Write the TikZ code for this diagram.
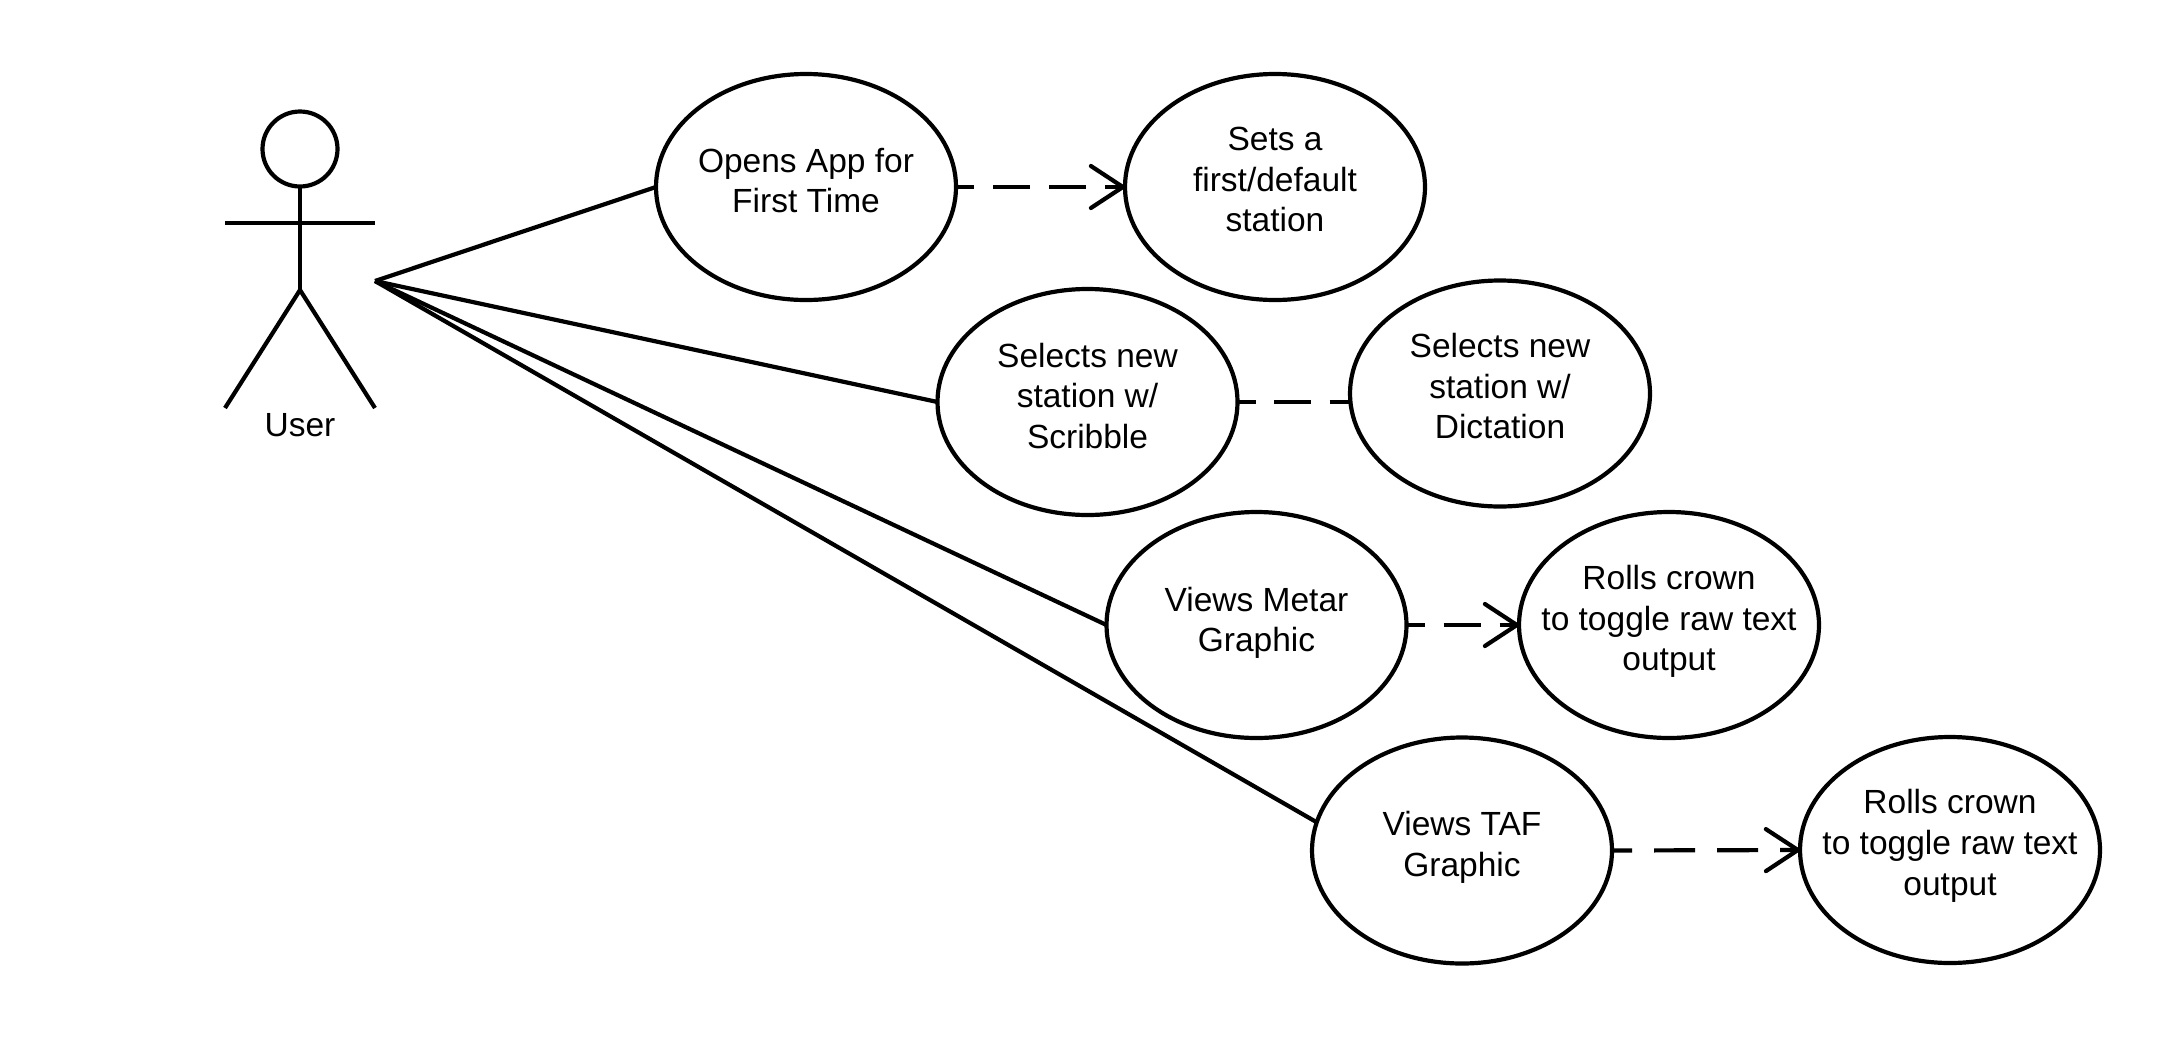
\documentclass[tikz,border=0pt]{standalone}
\usepackage{fontspec}
\setmainfont{Liberation Sans}
\usetikzlibrary{shapes.geometric,arrows.meta}
\tikzset{
  lbl/.style={font=\fontsize{33.5}{40.7}\selectfont, align=center, inner sep=0pt, outer sep=0pt, text=black},
  usecase/.style={ellipse, draw=black, line width=4.2pt, fill=white, inner sep=0pt, outer sep=0pt, minimum width=300pt, minimum height=226pt},
  conn/.style={draw=black, line width=4.2pt},
  dep/.style={conn, dash pattern=on 37pt off 19pt, dash phase=19pt},
  depwide/.style={conn, dash pattern=on 41pt off 22pt, dash phase=21pt},
  plaindep/.style={conn, line width=3.2pt, dash pattern=on 37pt off 18.5pt, dash phase=19pt},
  opentip/.style={-{Straight Barb[length=32pt,width=42pt,line width=4.2pt,round=false]}},
}
% #1 name, #2 x, #3 y, #4 text shift, #5 text
\newcommand{\uc}[5]{\node[usecase,label={[lbl,yshift=#4pt]center:{#5}}] (#1) at (#2,#3) {};}
\begin{document}
\begin{tikzpicture}[x=1pt,y=-1pt]
\useasboundingbox (0,0) rectangle (2175,1039);
% actor
\node[ellipse, draw=black, line width=4.2pt, inner sep=0pt, outer sep=0pt, minimum width=75pt, minimum height=75pt] (head) at (300,149) {};
\coordinate (hip) at (300,290);
\coordinate (armL) at (225,223);
\coordinate (armR) at (375,223);
\coordinate (footL) at (225,408);
\coordinate (footR) at (375,408);
\coordinate (u) at (375,281);
\draw[conn] (head.south) -- (hip);
\draw[conn] (armL) -- (armR);
\draw[conn] (footL) -- (hip) -- (footR);
\node[lbl] (user) at (300,425) {User};
% use cases
\uc{open}{806}{187}{6.4}{Opens App for\\First Time}
\uc{first}{1275}{187}{7.5}{Sets a\\first/default\\station}
\uc{scrib}{1087.5}{402}{6}{Selects new\\station w/\\Scribble}
\uc{dict}{1500}{393.5}{7.3}{Selects new\\station w/\\Dictation}
\uc{metar}{1256.5}{625}{2.2}{Views Metar\\Graphic}
\uc{rollA}{1669}{625}{3.6}{Rolls crown\\to toggle raw text\\output}
\uc{taf}{1462}{850.5}{3.2}{Views TAF\\Graphic}
\uc{rollB}{1950}{850}{4.2}{Rolls crown\\to toggle raw text\\output}
% associations
\draw[conn] (u) -- (open.west);
\draw[conn] (u) -- (scrib.west);
\draw[conn] (u) -- (metar.west);
\draw[conn] (u) -- (taf.169);
% dependencies
\draw[dep,opentip] (open.east) -- (first.west);
\draw[plaindep] (scrib.east) -- (scrib.east -| dict.west);
\draw[dep,opentip] (metar.east) -- (rollA.west);
\draw[depwide,opentip] (taf.east) -- (rollB.west);
\end{tikzpicture}
\end{document}
